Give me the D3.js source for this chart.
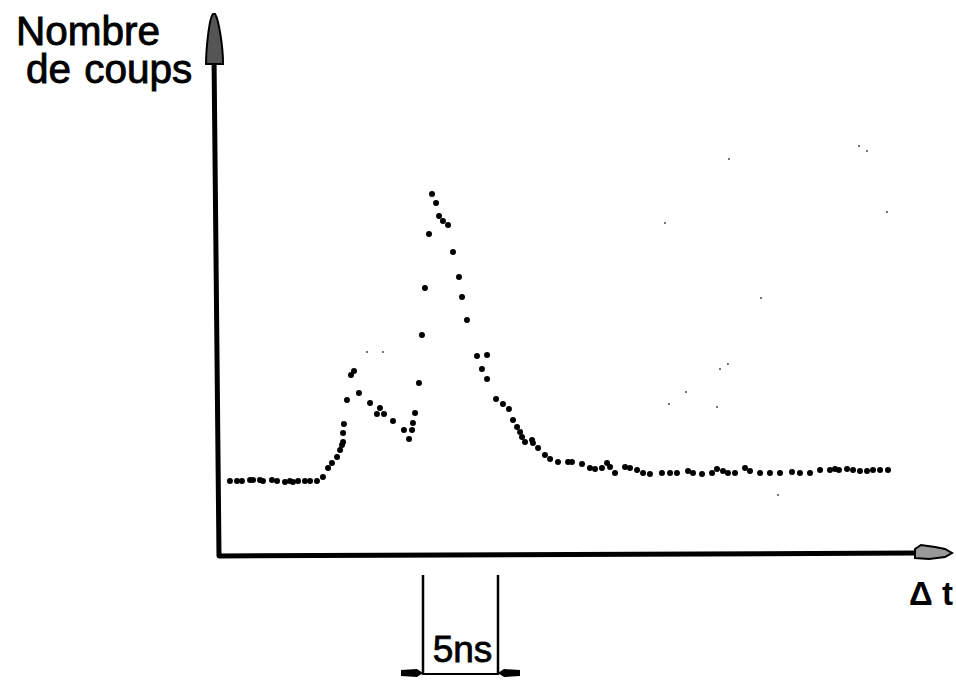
<!DOCTYPE html>
<html>
<head>
<meta charset="utf-8">
<script src="https://cdn.jsdelivr.net/npm/d3@7"></script>
<style>
  html, body { margin: 0; padding: 0; background: #fff; }
  svg { display: block; }
  text { font-family: "Liberation Sans", Arial, sans-serif; fill: #000; }
</style>
</head>
<body>
<svg id="chart" width="956" height="680"></svg>
<script>
// Channel times (ns) and counts
const times = [
    0.73, 1.2, 1.53, 2.07, 2.27, 2.73, 2.93, 3.53, 3.87, 4.4, 4.73, 4.93, 5.27, 5.73, 6.07, 6.53,
    6.93, 7.27, 7.53, 7.87, 8.07, 8.2, 8.27, 8.27, 8.33, 8.53, 8.8, 9.0, 9.33, 10.07, 10.53, 10.73,
    11.0, 11.6, 12.33, 12.67, 12.87, 12.93, 13.07, 13.33, 13.53, 13.73, 14.0, 14.2, 14.47, 14.67,
    14.93, 15.27, 15.6, 16.0, 16.2, 16.53, 17.2, 17.53, 17.87, 17.87, 18.47, 18.93, 19.33, 19.6,
    19.87, 20.07, 20.2, 20.4, 20.87, 20.93, 21.27, 21.73, 22.07, 22.6, 23.27, 23.53, 24.2, 24.73,
    25.07, 25.53, 25.87, 26.07, 26.4, 27.07, 27.4, 27.87, 28.27, 28.73, 29.53, 30.07, 30.53, 31.27,
    31.6, 32.2, 32.87, 33.2, 33.6, 33.93, 34.4, 35.07, 35.4, 36.07, 36.73, 37.4, 38.2, 38.73,
    39.4, 40.07, 40.73, 41.07, 41.33, 41.87, 42.27, 42.73, 43.2, 43.6, 44.07, 44.6
];
const counts = [
    18.75, 18.75, 18.75, 19, 19, 19, 18.75, 19, 18.75, 18.5, 18.75, 18.5, 18.75, 18.75, 18.75, 18.75,
    19.75, 22, 23.25, 24.75, 26.5, 27.75, 28.5, 30.75, 33, 39, 45.25, 46.25, 40.75, 38.25, 35.5, 37,
    35.5, 33.75, 31.5, 29.25, 31.5, 33.25, 35.75, 43.25, 55.25, 67, 80.5, 90.5, 88.25, 85,
    83.75, 82.75, 76, 69.75, 64.75, 59, 50, 46.75, 50.25, 44.25, 39.25, 38, 36.75, 34,
    32.25, 31, 29.75, 28.5, 29, 28.25, 27, 25.25, 24.25, 23.5, 23.5, 23.5, 23, 22,
    21.75, 22, 23.25, 22.25, 20.75, 22.25, 22, 21.5, 20.75, 20.5, 20.75, 20.75, 20.75, 21.25,
    20.75, 20.5, 20.75, 21.75, 21.25, 20.75, 20.75, 22, 21.25, 20.75, 20.75, 20.75, 21, 20.75,
    20.75, 21.5, 21.5, 21.75, 21.5, 21.75, 21.5, 21.25, 21.25, 21.5, 21.5, 21.5
];

// Dust specks on the scan
const speckTimes = [9.87, 10.93, 42.67, 43.2, 34, 44.53, 29.73, 36.13, 33.93, 33.4, 31.13, 30, 33.2, 37.27];
const speckCounts = [51, 51, 102.5, 101.25, 99.25, 86, 83.25, 64.5, 48, 46.75, 41, 38, 37.25, 15.25];

// Labels and the 5 ns scale mark
const yLabel = ['Nombre', 'de coups'];
const xLabel = ['Δ', 't'];
const scaleMark = [13.6, 18.6];
const scaleMarkLabel = '5ns';

const svg = d3.select('#chart');

// Scales: ns along x, counts along y
const x = d3.scaleLinear().domain([0, 45]).range([219, 894]);
const y = d3.scaleLinear().domain([0, 100]).range([556, 156]);

// Axes drawn by hand, slightly skewed like the original drawing
const x0 = x(0), y0 = y(0);
const yTop = [x(-0.33), y(124)];
const xEnd = [x(46.4), y(0.75)];

svg.append('path')
    .attr('d', d3.line()([yTop, [x0, y0], xEnd]))
    .attr('fill', 'none')
    .attr('stroke', '#000')
    .attr('stroke-width', 5)
    .attr('stroke-linejoin', 'round');

// Arrow heads
const [ax, ay] = yTop;
svg.append('path')
    .attr('d', `M${ax - 1},${ay - 46} C${ax - 5},${ay - 42} ${ax - 8},${ay - 10} ${ax - 8},${ay + 4}
        L${ax + 9},${ay + 4} C${ax + 9},${ay - 12} ${ax + 5},${ay - 40} ${ax + 1},${ay - 46} Z`)
    .attr('fill', '#555')
    .attr('stroke', '#000')
    .attr('stroke-width', 2);

const [bx, by] = xEnd;
svg.append('path')
    .attr('d', `M${bx},${by - 4} L${bx + 6},${by - 8} L${bx + 20},${by - 6} L${bx + 30},${by - 4}
        L${bx + 37},${by} L${bx + 30},${by + 4} L${bx + 14},${by + 6} L${bx},${by + 5} Z`)
    .attr('fill', '#999')
    .attr('stroke', '#000')
    .attr('stroke-width', 2);

// Data points
svg.append('g')
    .selectAll('circle')
    .data(times)
    .join('circle')
    .attr('cx', d => x(d))
    .attr('cy', (d, i) => y(counts[i]))
    .attr('r', 3)
    .attr('fill', '#000');

svg.append('g')
    .selectAll('circle')
    .data(speckTimes)
    .join('circle')
    .attr('cx', d => x(d))
    .attr('cy', (d, i) => y(speckCounts[i]))
    .attr('r', 0.9)
    .attr('fill', '#333');

// Axis titles
svg.append('g')
    .selectAll('text')
    .data(yLabel)
    .join('text')
    .attr('x', (d, i) => i ? 26 : 16)
    .attr('y', (d, i) => i ? 83 : 45)
    .attr('font-size', 40.5)
    .attr('stroke', '#000')
    .attr('stroke-width', 0.9)
    .attr('word-spacing', 2)
    .text(d => d);

svg.append('g')
    .selectAll('text')
    .data(xLabel)
    .join('text')
    .attr('x', (d, i) => i ? 942 : 909)
    .attr('y', 605)
    .attr('font-size', 33)
    .attr('font-weight', 'bold')
    .text(d => d);

// 5 ns scale mark under the axis
const mark = svg.append('g');
const markTop = 575, markBottom = 675, markY = 673;

mark.selectAll('line.tick')
    .data(scaleMark)
    .join('line')
    .attr('class', 'tick')
    .attr('x1', d => x(d))
    .attr('x2', d => x(d))
    .attr('y1', markTop)
    .attr('y2', markBottom)
    .attr('stroke', '#000')
    .attr('stroke-width', 2.5);

mark.append('line')
    .attr('x1', x(scaleMark[0]))
    .attr('x2', x(scaleMark[1]))
    .attr('y1', markY + 1)
    .attr('y2', markY + 1)
    .attr('stroke', '#000')
    .attr('stroke-width', 2);

// Inward pointing arrows on each side
mark.selectAll('path')
    .data(scaleMark)
    .join('path')
    .attr('d', (d, i) => {
        const tip = x(d);
        const s = i ? 1 : -1;
        const tail = tip + s * 22;
        return `M${tail},${markY - 3} L${tip + s * 6},${markY - 4} L${tip},${markY} L${tip + s * 6},${markY + 4} L${tail},${markY + 3} Z`;
    })
    .attr('fill', '#000');

mark.append('text')
    .attr('x', (x(scaleMark[0]) + x(scaleMark[1])) / 2 + 2)
    .attr('y', 662)
    .attr('text-anchor', 'middle')
    .attr('font-size', 37)
    .attr('stroke', '#000')
    .attr('stroke-width', 0.8)
    .text(scaleMarkLabel);
</script>
</body>
</html>
